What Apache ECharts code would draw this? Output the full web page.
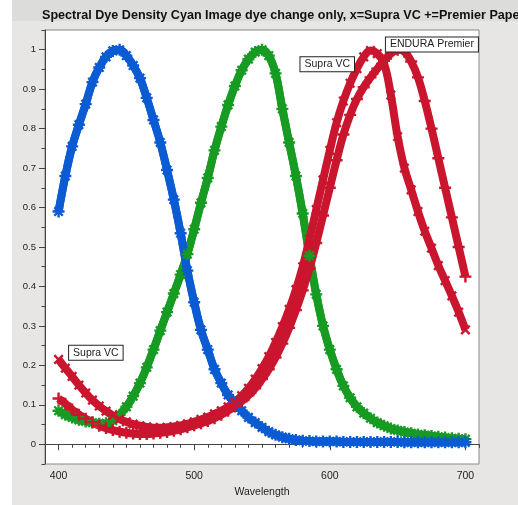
<!DOCTYPE html>
<html>
<head>
<meta charset="utf-8">
<script src="https://cdn.jsdelivr.net/npm/echarts@6/dist/echarts.min.js"></script>
<style>
html, body { margin: 0; padding: 0; background: #e7e6e4; }
#chart { width: 518px; height: 505px; }
</style>
</head>
<body>
<div id="chart"></div>
<script>
// wavelength, nm (5 nm steps)
var wavelengths = [400,405,410,415,420,425,430,435,440,445,
    450,455,460,465,470,475,480,485,490,495,
    500,505,510,515,520,525,530,535,540,545,
    550,555,560,565,570,575,580,585,590,595,
    600,605,610,615,620,625,630,635,640,645,
    650,655,660,665,670,675,680,685,690,695,
    700];

// yellow dye (blue curve), same for both papers
var yellowDye = [0.59,0.68,0.755,0.81,0.862,0.918,0.955,0.982,0.997,1.0,
    0.985,0.96,0.928,0.878,0.822,0.765,0.695,0.62,0.535,0.44,
    0.36,0.29,0.24,0.19,0.155,0.125,0.105,0.085,0.068,0.055,
    0.043,0.032,0.024,0.018,0.014,0.011,0.009,0.008,0.007,0.007,
    0.007,0.007,0.006,0.006,0.006,0.006,0.006,0.006,0.006,0.006,
    0.006,0.005,0.005,0.005,0.005,0.005,0.005,0.005,0.005,0.005,
    0.005];

// magenta dye (green curve), same for both papers
var magentaDye = [0.085,0.075,0.068,0.062,0.058,0.055,0.052,0.053,0.060,0.075,
    0.095,0.122,0.155,0.195,0.240,0.288,0.335,0.382,0.430,0.482,
    0.545,0.612,0.675,0.745,0.805,0.860,0.908,0.948,0.976,0.994,
    1.0,0.985,0.940,0.850,0.765,0.680,0.585,0.478,0.380,0.300,
    0.240,0.190,0.148,0.118,0.095,0.079,0.066,0.055,0.047,0.040,
    0.035,0.031,0.028,0.025,0.023,0.021,0.019,0.017,0.015,0.014,
    0.013];

// cyan dye (red curves)
var cyanSupra = [0.215,0.193,0.172,0.150,0.130,0.112,0.097,0.084,0.073,0.064,
    0.057,0.051,0.047,0.044,0.042,0.042,0.043,0.045,0.048,0.052,
    0.057,0.063,0.069,0.077,0.085,0.095,0.108,0.123,0.142,0.165,
    0.192,0.222,0.258,0.298,0.342,0.392,0.450,0.520,0.595,0.670,
    0.745,0.815,0.870,0.915,0.952,0.982,0.998,0.990,0.965,0.885,
    0.780,0.700,0.645,0.590,0.540,0.497,0.453,0.415,0.376,0.335,
    0.290];

var cyanPremier = [0.116,0.103,0.088,0.075,0.065,0.056,0.047,0.041,0.036,0.032,
    0.029,0.027,0.026,0.026,0.027,0.029,0.031,0.034,0.038,0.043,
    0.048,0.053,0.059,0.066,0.075,0.085,0.096,0.109,0.124,0.142,
    0.165,0.190,0.220,0.255,0.295,0.340,0.390,0.445,0.510,0.580,
    0.650,0.720,0.785,0.835,0.875,0.905,0.930,0.952,0.972,0.990,
    1.0,0.995,0.970,0.930,0.870,0.800,0.725,0.650,0.575,0.500,
    0.425];

var xTicks = [400, 500, 600, 700];
var yTicks = [0, 0.1, 0.2, 0.3, 0.4, 0.5, 0.6, 0.7, 0.8, 0.9, 1];

var font = 'Liberation Sans, Arial, sans-serif';
var plusPath = 'path://M4,0H6V4H10V6H6V10H4V6H0V4H4Z';

var BLUE = '#0b5bd3';
var GREEN = '#179b22';
var RED = '#c9162e';

function pairs(vals) {
    return wavelengths.map(function (w, i) { return [w, vals[i]]; });
}

function noteLabel() {
    return {
        show: true,
        position: 'right',
        distance: 0,
        formatter: '{b}',
        fontFamily: font,
        fontSize: 10.5,
        color: '#222',
        backgroundColor: '#fff',
        borderColor: '#222',
        borderWidth: 1,
        padding: [2, 4, 1, 4]
    };
}

function curve(name, vals, color, rotate, marks) {
    var s = {
        name: name,
        type: 'line',
        data: pairs(vals),
        smooth: 0.4,
        symbol: plusPath,
        symbolSize: 12,
        symbolRotate: rotate,
        showSymbol: true,
        itemStyle: { color: color },
        lineStyle: { color: color, width: 8 }
    };
    if (marks) {
        s.markPoint = {
            symbol: 'rect',
            symbolSize: 1,
            itemStyle: { color: 'rgba(0,0,0,0)' },
            label: noteLabel(),
            data: marks
        };
    }
    return s;
}

var chart = echarts.init(document.getElementById('chart'));

chart.setOption({
    animation: false,
    backgroundColor: '#e7e6e4',
    graphic: [
        { type: 'rect', z: 0, shape: { x: 0, y: 0, width: 12, height: 505 }, style: { fill: '#ffffff' } },
        { type: 'rect', z: 0, shape: { x: 12, y: 0, width: 506, height: 21 }, style: { fill: '#dcdcdb' } }
    ],
    title: {
        text: 'Spectral Dye Density Cyan Image dye change only, x=Supra VC +=Premier Paper',
        left: 37,
        top: 4,
        textStyle: { fontFamily: font, fontSize: 12.6, fontWeight: 'bold', color: '#111' }
    },
    grid: {
        left: 45, right: 39, top: 30, bottom: 41,
        show: true,
        backgroundColor: '#ffffff',
        borderColor: '#888',
        borderWidth: 1
    },
    xAxis: [{
        type: 'value', min: 390, max: 710, interval: 10,
        axisLine: { lineStyle: { color: '#444' } },
        axisTick: { length: 3.5, lineStyle: { color: '#444' } },
        axisLabel: { show: false },
        splitLine: { show: false }
    }, {
        type: 'value', min: 390, max: 710, position: 'bottom',
        axisLine: { show: false },
        axisTick: { customValues: xTicks, length: 6, lineStyle: { color: '#444' } },
        axisLabel: { customValues: xTicks, fontFamily: font, fontSize: 10.5, color: '#222', margin: 7 },
        splitLine: { show: false },
        name: 'Wavelength',
        nameLocation: 'middle',
        nameGap: 22,
        nameTextStyle: { fontFamily: font, fontSize: 10.5, color: '#222' }
    }],
    yAxis: [{
        type: 'value', min: -0.05, max: 1.05, interval: 0.05,
        axisLine: { show: true, lineStyle: { color: '#444' } },
        axisTick: { show: true, length: 3.5, lineStyle: { color: '#444' } },
        axisLabel: { show: false },
        splitLine: { show: false }
    }, {
        type: 'value', min: -0.05, max: 1.05, position: 'left',
        axisLine: { show: false },
        axisTick: { show: true, customValues: yTicks, length: 6, lineStyle: { color: '#444' } },
        axisLabel: { customValues: yTicks, fontFamily: font, fontSize: 9.5, color: '#222', margin: 9 },
        splitLine: { show: false }
    }],
    series: [
        curve('Magenta Supra VC', magentaDye, GREEN, 45),
        curve('Magenta Premier', magentaDye, GREEN, 0),
        curve('Yellow Supra VC', yellowDye, BLUE, 45),
        curve('Yellow Premier', yellowDye, BLUE, 0),
        curve('Cyan Supra VC', cyanSupra, RED, 45, [
            { name: 'Supra VC', coord: [578, 0.963] },
            { name: 'Supra VC', coord: [407.4, 0.232] }
        ]),
        curve('Cyan Premier', cyanPremier, RED, 0, [
            { name: 'ENDURA Premier', coord: [641, 1.013] }
        ])
    ]
});
</script>
</body>
</html>
